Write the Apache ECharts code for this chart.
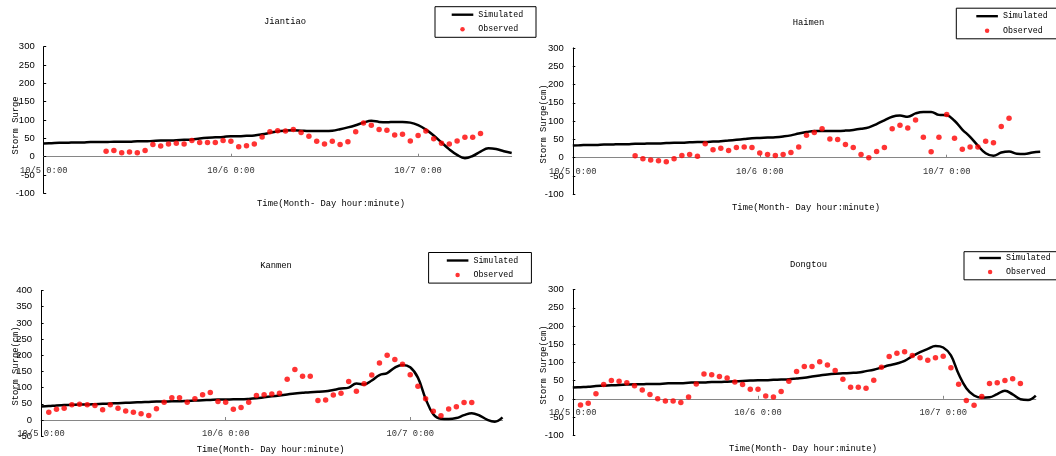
<!DOCTYPE html>
<html>
<head>
<meta charset="utf-8">
<script src="https://cdn.jsdelivr.net/npm/echarts@6/dist/echarts.min.js"></script>
<style>html,body{margin:0;padding:0;background:#fff;}#c{width:1056px;height:456px;}</style>
</head>
<body>
<div id="c"></div>
<script>
// ---- data ----
const stations = ['Jiantiao', 'Haimen', 'Kanmen', 'Dongtou'];
const yTitles = ['Storm Surge', 'Storm Surge(cm)', 'Storm Surge(cm)', 'Storm Surge(cm)'];
const xTitle = 'Time(Month- Day hour:minute)';
const xTickLabels = ['10/5 0:00', '10/6 0:00', '10/7 0:00'];
const xTickHours = [0, 24, 48];
const yRanges = [[-100, 300], [-100, 300], [-50, 400], [-100, 300]];

// simulated, hourly from 10/5 0:00 (hour 0..60)
const simJiantiao = [36,37,38,38,39,39,40,40,40,41,41,41,42,42,43,44,44,45,46,47,50,52,53,54,56,56,57,58,61,65,69,71,72,71,70,70,70,71,75,80,86,93,98,95,94,95,95,93,86,74,58,39,20,5,-4,2,14,23,21,15,10];
const simHaimen = [33,34,35,35,36,36,37,37,38,38,39,39,40,41,41,42,43,43,44,45,47,49,51,53,54,55,56,58,61,66,70,73,73,73,73,74,76,79,83,92,102,112,115,112,121,125,125,117,116,101,77,57,33,12,5,14,17,11,10,14,16];
const simKanmen = [42,43,45,46,47,48,48,49,50,51,52,53,54,55,56,57,57,58,58,59,60,61,62,63,63,64,64,65,67,70,73,76,79,82,84,86,87,89,93,97,100,113,110,122,139,145,162,170,163,131,66,18,4,3,6,15,21,14,1,-5,8];
const simDongtou = [31,32,33,35,36,37,38,39,40,40,41,41,42,43,43,44,45,45,46,46,47,48,49,50,51,51,52,53,54,56,58,61,64,67,69,70,71,72,76,80,86,92,97,104,117,128,137,145,141,119,68,29,9,3,4,13,22,12,-1,-3,9];

// observed, hourly from the start hour given
const obsStartJiantiao = 8;
const obsJiantiao = [15,17,11,13,11,17,33,29,35,37,35,44,39,39,39,44,42,27,30,35,54,68,71,70,74,66,56,42,35,42,33,41,68,92,86,74,72,59,61,43,58,70,49,37,35,43,53,53,63];
const obsStartHaimen = 8;
const obsHaimen = [5,-3,-6,-8,-11,-3,6,9,4,38,22,26,20,28,29,28,13,9,6,9,14,29,61,69,79,51,50,36,28,9,0,17,28,79,89,81,103,56,16,56,118,53,23,29,29,45,41,85,108];
const obsStartKanmen = 1;
const obsKanmen = [24,33,36,47,49,47,45,32,47,36,28,24,19,14,35,55,69,69,55,66,78,85,57,55,33,39,55,76,78,80,83,126,156,135,135,60,62,77,83,119,89,112,139,176,200,187,172,140,104,66,27,13,34,41,54,54];
const obsStartDongtou = 1;
const obsDongtou = [-17,-12,14,39,50,48,44,36,24,12,0,-6,-6,-10,5,41,68,66,61,57,46,39,26,26,8,5,20,48,75,89,89,102,93,78,54,32,32,29,51,87,116,125,129,119,113,106,113,117,85,40,-5,-18,6,42,44,50,55,42];

const sims = [simJiantiao, simHaimen, simKanmen, simDongtou];
const obs = [obsJiantiao, obsHaimen, obsKanmen, obsDongtou];
const obsStart = [obsStartJiantiao, obsStartHaimen, obsStartKanmen, obsStartDongtou];

// ---- layout ----
const grids = [
  {left: 43.7, top: 46.7, width: 468, height: 146.7},
  {left: 572.8, top: 47.9, width: 467.4, height: 146.4},
  {left: 41.1, top: 290.5, width: 461.4, height: 145.7},
  {left: 572.8, top: 289.6, width: 463, height: 145.6}
];
const xLabelMargin = [-27.7, -27.6, -7.2, -27.4];
const titlePos = [[285, 21.9], [808.5, 22.2], [276, 266], [808.5, 264.2]];
const xTitlePos = [[331, 203.7], [806, 207.7], [270.7, 449.8], [803, 448.8]];
const yTitlePos = [[15.5, 125.5], [543.5, 124], [15.5, 366], [543.5, 365]];
const legendPos = [
  {left: 435, top: 6.7, pad: [3, 12.9, 3, 16.7], gap: 4.6},
  {left: 956.3, top: 8.2, pad: [3, 12.9, 3, 20], gap: 4.6},
  {left: 428.6, top: 252.5, pad: [3, 13.2, 3, 18.2], gap: 4.6},
  {left: 964, top: 251.7, pad: [1.3, 12.9, 2.8, 15.3], gap: 4}
];

const MONO = '"Liberation Mono", "DejaVu Sans Mono", monospace';
const SANS = '"Liberation Sans", Arial, sans-serif';

const xAxis = [], yAxis = [], series = [], legend = [], graphic = [];
for (let i = 0; i < 4; i++) {
  xAxis.push({
    type: 'value', gridIndex: i, min: 0, max: 60, interval: 24,
    axisLine: {onZero: true, lineStyle: {color: '#868686', width: 1}},
    axisTick: {show: true, inside: true, length: 3, customValues: [24, 48], lineStyle: {color: '#868686'}},
    axisLabel: {
      customValues: xTickHours, margin: xLabelMargin[i], color: '#333', fontFamily: MONO, fontSize: 8.8,
      formatter: v => { const k = xTickHours.indexOf(v); return k >= 0 ? xTickLabels[k] : ''; }
    },
    splitLine: {show: false}
  });
  yAxis.push({
    type: 'value', gridIndex: i, min: yRanges[i][0], max: yRanges[i][1], interval: 50,
    axisLine: {show: true, onZero: false, lineStyle: {color: '#000', width: 1}},
    axisTick: {show: true, inside: true, length: 2.5, lineStyle: {color: '#000'}},
    axisLabel: {color: '#000', fontFamily: SANS, fontSize: 9.5, margin: 9},
    splitLine: {show: false}
  });
  series.push({
    name: 'Simulated', type: 'line', xAxisIndex: i, yAxisIndex: i,
    data: sims[i].map((v, h) => [h, v]),
    smooth: 0.4, symbol: 'none', showSymbol: false,
    lineStyle: {color: '#000', width: 2.5}, itemStyle: {color: '#000'},
    z: 2, animation: false
  });
  series.push({
    name: 'Observed', type: 'scatter', xAxisIndex: i, yAxisIndex: i,
    data: obs[i].map((v, k) => [obsStart[i] + k, v]),
    symbol: 'circle', symbolSize: 5.5, itemStyle: {color: '#ff0000'},
    z: 3, animation: false
  });
  const lp = legendPos[i];
  legend.push({
    data: [
      {name: 'Simulated', icon: 'path://M0 0H100V11H0Z', itemStyle: {color: '#000', borderWidth: 0}},
      {name: 'Observed', icon: 'circle'}
    ],
    orient: 'vertical',
    left: lp.left, top: lp.top,
    padding: lp.pad,
    itemWidth: 21.6, itemHeight: 4.5, itemGap: lp.gap,
    borderColor: '#000', borderWidth: 1, backgroundColor: '#fff',
    selectedMode: false,
    textStyle: {fontFamily: MONO, fontSize: 8.3, color: '#000', lineHeight: 10}
  });
  graphic.push({type: 'text', x: titlePos[i][0], y: titlePos[i][1], silent: true,
    style: {text: stations[i], fontFamily: MONO, fontSize: 8.8, fill: '#000', align: 'center', verticalAlign: 'middle'}});
  graphic.push({type: 'text', x: xTitlePos[i][0], y: xTitlePos[i][1], silent: true,
    style: {text: xTitle, fontFamily: MONO, fontSize: 8.8, fill: '#000', align: 'center', verticalAlign: 'middle'}});
  graphic.push({type: 'text', x: yTitlePos[i][0], y: yTitlePos[i][1], rotation: Math.PI / 2, silent: true,
    style: {text: yTitles[i], fontFamily: MONO, fontSize: 8.8, fill: '#000', align: 'center', verticalAlign: 'middle'}});
}

const chart = echarts.init(document.getElementById('c'), null, {renderer: 'canvas'});
chart.setOption({
  backgroundColor: '#fff',
  animation: false,
  grid: grids,
  xAxis, yAxis, series, legend, graphic
});
</script>
</body>
</html>
